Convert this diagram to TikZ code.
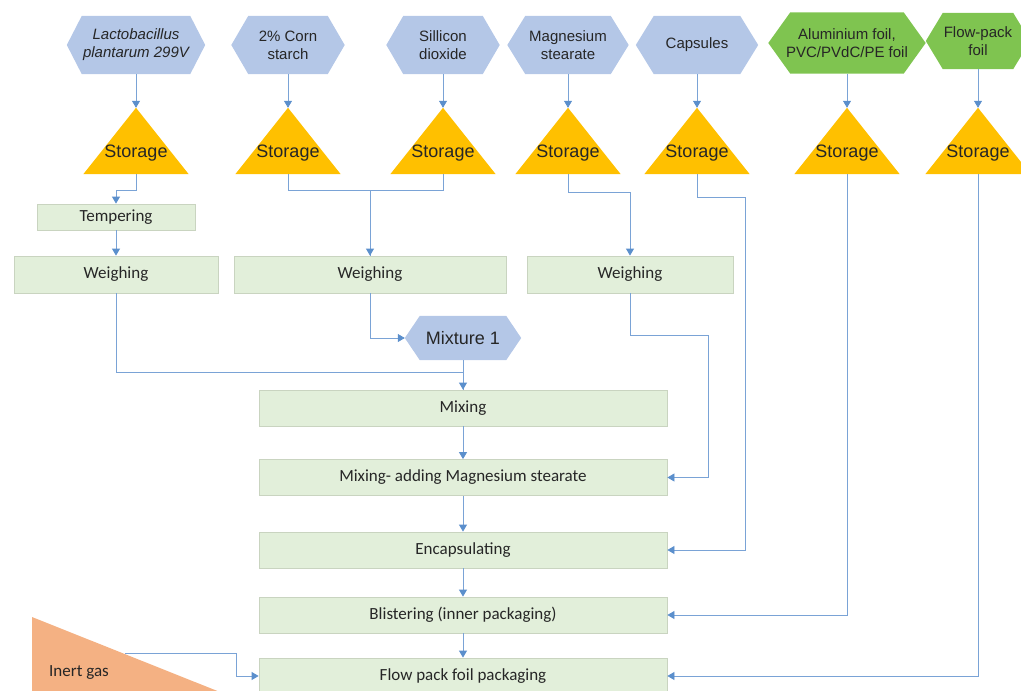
\documentclass[tikz,border=0pt]{standalone}
\usepackage{fontspec}
\setmainfont{Carlito}
\newfontfamily\arialfont{Liberation Sans}
\usetikzlibrary{arrows.meta}
\usetikzlibrary{positioning}
\usetikzlibrary{backgrounds}
\definecolor{hexblue}{HTML}{B4C7E7}
\definecolor{hexgreen}{HTML}{7FC450}
\definecolor{storefill}{HTML}{FFC000}
\definecolor{stepfill}{HTML}{E2EFDA}
\definecolor{stepline}{HTML}{C9D4C0}
\definecolor{gasfill}{HTML}{F4B183}
\definecolor{flowline}{HTML}{7AA3D6}
\definecolor{tipblue}{HTML}{5B8FCC}
\newcommand{\storagetext}{\arialfont\fontsize{18}{20}\selectfont}

\begin{document}
\begin{tikzpicture}[x=1pt, y=-1pt,
                    every node/.style={text=black!85},
                    source/.style={font=\arialfont\fontsize{15}{18}\selectfont,
                        align=center, inner sep=0pt, minimum height=58pt},
                    storage/.style={minimum width=105pt, minimum height=66pt,
                        inner sep=0pt,
                        label={[font=\storagetext, yshift=-12.5pt]center:Storage}},
                    process/.style={draw=stepline, fill=stepfill, line width=0.8pt,
                        font=\fontsize{17}{20}\selectfont, inner sep=2pt,
                        minimum height=36pt},
                    link/.style={draw=flowline, line width=0.8pt},
                    flow/.style={link, -{Triangle[width=8pt,length=7pt,color=tipblue]}}]

    \useasboundingbox (0,0) rectangle (1021,691);

    % raw materials
    \node[source, minimum width=138pt] (lacto) at (136,45) {\itshape Lactobacillus\\\itshape plantarum 299V};
    \node[source, minimum width=113pt] (corn) at (288,45) {2\% Corn\\starch};
    \node[source, minimum width=113pt] (silica) at (443,45) {Sillicon\\dioxide};
    \node[source, minimum width=121pt] (magst) at (568,45) {Magnesium\\stearate};
    \node[source, minimum width=122pt] (caps) at (697,45) {Capsules};
    \node[source, minimum width=157pt, minimum height=61pt] (alufoil) at (847,43) {Aluminium foil,\\PVC/PVdC/PE foil};
    \node[source, minimum width=104pt, minimum height=56pt] (packfoil) at (978,41) {Flow-pack\\foil};

    % storage
    \foreach \n/\x in {1/136, 2/288, 3/443, 4/568, 5/697, 6/847, 7/978}
        \node[storage] (st\n) at (\x,141) {};

    % process steps
    \node[process, minimum width=158pt, minimum height=26pt] (temper) at (116,217) {Tempering};
    \node[process, minimum width=204pt, minimum height=37pt] (weigh1) at (116,274.5) {Weighing};
    \node[process, minimum width=272pt, minimum height=37pt] (weigh2) at (370,274.5) {Weighing};
    \node[process, minimum width=206pt, minimum height=37pt] (weigh3) at (630,274.5) {Weighing};
    \node[source, font=\storagetext, minimum width=116pt, minimum height=44pt] (mix1) at (463,338) {Mixture 1};
    \node[process, minimum width=408pt] (mixing) at (463,408) {Mixing};
    \node[process, minimum width=408pt] (mixadd) at (463,477.5) {Mixing- adding Magnesium stearate};
    \node[process, minimum width=408pt] (encap) at (463,550) {Encapsulating};
    \node[process, minimum width=408pt] (blister) at (463,615) {Blistering (inner packaging)};
    \node[process, minimum width=408pt] (flowpack) at (463,676) {Flow pack foil packaging};
    \node[font=\fontsize{17}{20}\selectfont] (gas) at (79,672) {Inert gas};
    \coordinate (gasout) at (125,653);

    % shapes behind the texts
    \begin{pgfonlayer}{background}
        \foreach \n/\c/\d in {lacto/hexblue/15, corn/hexblue/17, silica/hexblue/17,
                              magst/hexblue/18, caps/hexblue/18, alufoil/hexgreen/22,
                              packfoil/hexgreen/17, mix1/hexblue/15}
            \fill[\c] (\n.west) -- ([xshift=\d pt]\n.north west) -- ([xshift=-\d pt]\n.north east)
                -- (\n.east) -- ([xshift=-\d pt]\n.south east) -- ([xshift=\d pt]\n.south west) -- cycle;
        \foreach \n in {1,...,7}
            \fill[storefill] (st\n.south west) -- (st\n.north) -- (st\n.south east) -- cycle;
        \fill[gasfill] (32,617) -- (32,700) -- (240,700) -- cycle;
    \end{pgfonlayer}

    % connectors
    \foreach \s/\n in {lacto/1, corn/2, silica/3, magst/4, caps/5, alufoil/6, packfoil/7}
        \draw[flow] (\s.south) -- (st\n.north);
    \draw[flow] (st1.south) -- ++(0,16) -| (temper.north);
    \draw[flow] (temper) -- (weigh1);
    \draw[link] (st3.south) -- ++(0,16) -| (weigh2.north);
    \draw[flow] (st2.south) -- ++(0,16) -| (weigh2.north);
    \draw[flow] (st4.south) -- ++(0,18) -| (weigh3.north);
    \draw[flow] (st5.south) -- ++(0,23) -- ++(48,0) |- (encap.east);
    \draw[flow] (weigh2.south) |- (mix1.west);
    \draw[link] (mix1) -- (mixing);
    \draw[flow] (weigh1.south) -- ++(0,79) -| (mixing.north);
    \draw[flow] (weigh3.south) -- ++(0,42) -- ++(78,0) |- (mixadd.east);
    \draw[flow] (mixing) -- (mixadd);
    \draw[flow] (mixadd) -- (encap);
    \draw[flow] (encap) -- (blister);
    \draw[flow] (blister) -- (flowpack);
    \draw[flow] (st6.south) |- (blister.east);
    \draw[flow] (st7.south) |- (flowpack.east);
    \draw[flow] (gasout) -- ++(111,0) |- (flowpack.west);
\end{tikzpicture}
\end{document}
